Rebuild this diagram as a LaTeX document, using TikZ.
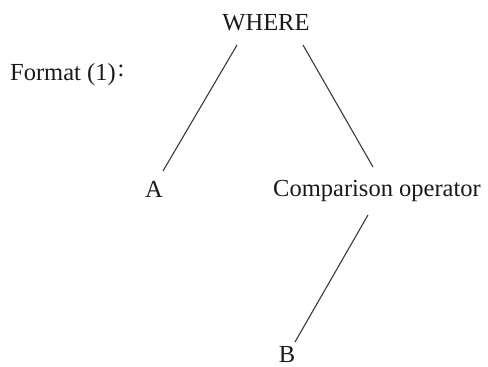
\documentclass[tikz,border=0pt]{standalone}
\usepackage{fontspec}
\setmainfont{Liberation Serif}
\definecolor{ink}{HTML}{1A1A1A}
\definecolor{edge}{HTML}{3A3A3A}
\begin{document}
\begin{tikzpicture}[x=1pt,y=-1pt,
  lbl/.style={font=\fontsize{24.5}{26}\selectfont, text=ink, inner sep=0pt, anchor=base},
  link/.style={draw=edge, line width=1.1pt}]
\useasboundingbox (0,0) rectangle (488,367);
\node[lbl] (where) at (266,30) {WHERE};
\node[lbl, anchor=base west] (fmt) at (10,80) {Format (1)\hspace{2pt}\raisebox{4pt}{:}};
\node[lbl] (a) at (154,197) {A};
\node[lbl] (cmp) at (377,196) {Comparison operator};
\node[lbl] (b) at (287,362) {B};
\draw[link] ([shift={(-29,15)}]where.base) -- ([shift={(9,-26)}]a.base);
\draw[link] ([shift={(37,15)}]where.base) -- ([shift={(-4,-29)}]cmp.base);
\draw[link] ([shift={(-9,19)}]cmp.base) -- ([shift={(8,-20)}]b.base);
\end{tikzpicture}
\end{document}
